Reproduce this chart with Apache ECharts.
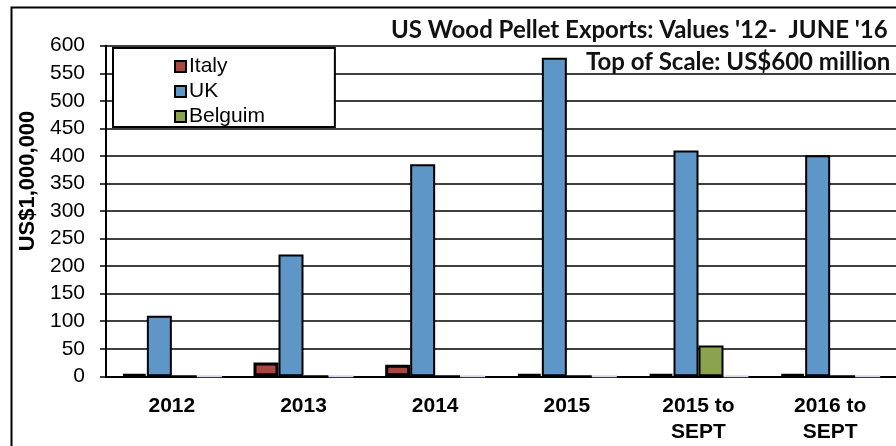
<!DOCTYPE html>
<html>
<head>
<meta charset="UTF-8">
<title>US Wood Pellet Exports</title>
<script src="https://cdn.jsdelivr.net/npm/echarts@6/dist/echarts.min.js"></script>
<style>
  html, body { margin: 0; padding: 0; background: #fff; }
  #main { width: 896px; height: 446px; }
</style>
</head>
<body>
<div id="main"></div>
<script type="text/javascript">
// data (US$ millions)
var categories = ['2012', '2013', '2014', '2015', '2015 to\nSEPT', '2016 to\nSEPT'];
var italy   = [4, 25, 21, 4, 4, 4];
var uk      = [110, 221, 385, 578, 410, 401];
var belgium = [0, 0, 0, 0, 56, 0];
var other   = [0, 0, 0, 0, 0, 0];   // empty 4th series, not in the legend
var yTicks  = { min: 0, max: 600, step: 50 };

var titleText = "US Wood Pellet Exports: Values '12-  JUNE '16";
var noteText = 'Top of Scale: US$600 million';

var myChart = echarts.init(document.getElementById('main'));

var bold = 'Lato';
var option = {
    animation: false,
    backgroundColor: '#fff',
    title: [{
        text: titleText,
        left: 386,
        top: 13,
        textStyle: { fontFamily: bold, fontWeight: 'bold', fontSize: 24, color: '#111' }
    }, {
        text: noteText,
        left: 581,
        top: 45,
        textStyle: { fontFamily: bold, fontWeight: 'bold', fontSize: 24, color: '#111' }
    }],
    legend: {
        data: ['Italy', 'UK', 'Belgium'],
        orient: 'vertical',
        left: 113,
        top: 48,
        padding: [8, 70, 0, 61],
        itemWidth: 11,
        itemHeight: 11,
        itemGap: 4,
        backgroundColor: '#fff',
        borderColor: '#000',
        borderWidth: 2,
        borderRadius: 0,
        icon: 'rect',
        itemStyle: { borderColor: '#000', borderWidth: 2 },
        textStyle: { fontFamily: 'Liberation Sans', fontSize: 21, lineHeight: 21, color: '#000', padding: [0, 0, 0, -2] }
    },
    grid: {
        left: 106,
        right: -13,
        top: 45.7,
        bottom: 69.7,
        containLabel: false
    },
    xAxis: {
        type: 'category',
        data: categories,
        axisLine: { lineStyle: { color: '#000', width: 2 } },
        axisTick: { show: false },
        axisLabel: {
            margin: 17,
            fontFamily: 'Liberation Sans',
            fontWeight: 'bold',
            fontSize: 21,
            lineHeight: 26,
            color: '#000'
        }
    },
    yAxis: {
        type: 'value',
        min: yTicks.min,
        max: yTicks.max,
        interval: yTicks.step,
        name: 'US$1,000,000',
        nameLocation: 'middle',
        nameGap: 64,
        nameTextStyle: {
            fontFamily: 'Liberation Sans',
            fontWeight: 'bold',
            fontSize: 22,
            color: '#000',
            padding: [0, 0, 0, 60]
        },
        axisLine: { show: true, lineStyle: { color: '#000', width: 2 } },
        axisTick: { show: true, inside: false, length: 6, lineStyle: { color: '#000', width: 1.5 } },
        axisLabel: {
            margin: 21,
            fontFamily: 'Liberation Sans',
            fontSize: 21,
            color: '#000'
        },
        splitLine: { lineStyle: { color: '#000', width: 1.5 } }
    },
    series: [{
        name: 'Italy',
        type: 'bar',
        data: italy,
        barWidth: 25,
        barGap: '0%',
        itemStyle: { color: '#A9463F', borderColor: '#000', borderWidth: 3 }
    }, {
        name: 'UK',
        type: 'bar',
        data: uk,
        barWidth: 25,
        barGap: '0%',
        itemStyle: { color: '#5F96C8', borderColor: '#000', borderWidth: 2 }
    }, {
        name: 'Belgium',
        type: 'bar',
        data: belgium,
        barWidth: 25,
        barGap: '0%',
        itemStyle: { color: '#8BA24E', borderColor: '#000', borderWidth: 2 }
    }, {
        name: 'Other',
        type: 'bar',
        data: other,
        barWidth: 25,
        barGap: '0%',
        itemStyle: { color: '#DCD6EC', borderColor: '#DCD6EC', borderWidth: 2 }
    }],
    graphic: [{
        type: 'rect',
        left: 9,
        top: 5,
        z: 100,
        silent: true,
        shape: { width: 1000, height: 1000 },
        style: { fill: null, stroke: '#000', lineWidth: 2 }
    }]
};
// legend spells it like the source chart
option.legend.formatter = function (name) {
    return name === 'Belgium' ? 'Belguim' : name;
};
myChart.setOption(option);
</script>
</body>
</html>
